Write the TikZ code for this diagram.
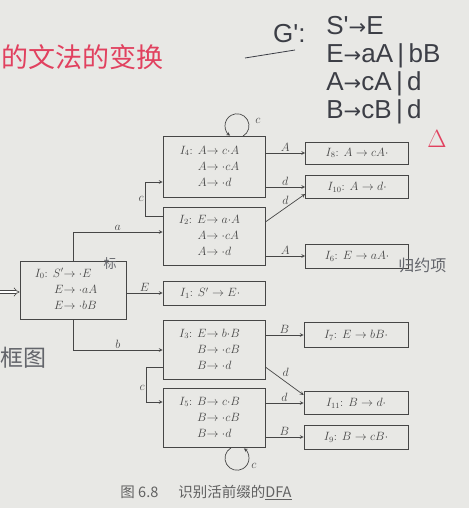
\documentclass[tikz,border=0pt]{standalone}
\usepackage{amsmath, amssymb}
\usepackage{fontspec}
\newfontfamily\cjk{Noto Sans CJK SC}
\newfontfamily\hand{Liberation Sans}
\newfontfamily\handarrow{DejaVu Sans}
\usetikzlibrary{arrows.meta, calc}
\definecolor{paper}{RGB}{232,232,229}
\definecolor{ink}{RGB}{70,70,70}
\definecolor{pen}{RGB}{60,62,70}
\definecolor{redpen}{RGB}{225,65,95}
\newcommand{\ra}{{\handarrow\fontsize{21}{21}\selectfont →}}
\renewcommand{\arraystretch}{1.2}

\begin{document}
\begin{tikzpicture}[x=1pt, y=-1pt, thick, >=stealth, ink,
    state/.style={rectangle, draw=ink, line width=0.7pt, minimum width=102pt, inner sep=2pt, font=\fontsize{11.5}{13.5}\selectfont},
    trans/.style={->, line width=0.7pt},
    lbl/.style={font=\fontsize{11.5}{13.5}\selectfont, inner sep=1.5pt}]
        % 背景
        \fill[paper] (0,0) rectangle (469,508);
        \useasboundingbox (0,0) rectangle (469,508);

        % 状态（项目集）
        \node[state, minimum height=58pt, minimum width=106pt] (I0) at (73,290)
            {\begin{tabular}{@{}r@{}l@{}}$I_0$: $S'$&$\rightarrow{\cdot}E$\\ $E$&$\rightarrow{\cdot}aA$\\ $E$&$\rightarrow{\cdot}bB$\end{tabular}\hspace*{14pt}};
        \node[state, minimum height=61pt] (I4) at (214,167)
            {\begin{tabular}{@{}r@{}l@{}}$I_4$: $A$&$\rightarrow c{\cdot}A$\\ $A$&$\rightarrow{\cdot}cA$\\ $A$&$\rightarrow{\cdot}d$\end{tabular}\hspace*{9pt}};
        \node[state, minimum height=58pt] (I2) at (214,236)
            {\begin{tabular}{@{}r@{}l@{}}$I_2$: $E$&$\rightarrow a{\cdot}A$\\ $A$&$\rightarrow{\cdot}cA$\\ $A$&$\rightarrow{\cdot}d$\end{tabular}\hspace*{9pt}};
        \node[state, minimum height=24pt] (I1) at (214,293) {$I_1$: $S'\rightarrow E{\cdot}$\hspace*{8pt}};
        \node[state, minimum height=59pt] (I3) at (214,350)
            {\begin{tabular}{@{}r@{}l@{}}$I_3$: $E$&$\rightarrow b{\cdot}B$\\ $B$&$\rightarrow{\cdot}cB$\\ $B$&$\rightarrow{\cdot}d$\end{tabular}\hspace*{9pt}};
        \node[state, minimum height=59pt] (I5) at (214,418)
            {\begin{tabular}{@{}r@{}l@{}}$I_5$: $B$&$\rightarrow c{\cdot}B$\\ $B$&$\rightarrow{\cdot}cB$\\ $B$&$\rightarrow{\cdot}d$\end{tabular}\hspace*{9pt}};
        \node[state, minimum height=22pt, minimum width=103pt] (I8) at (357,153) {$I_8$: $A\rightarrow cA{\cdot}$};
        \node[state, minimum height=23pt, minimum width=103pt] (I10) at (357,187) {$I_{10}$: $A\rightarrow d{\cdot}$};
        \node[state, minimum height=24pt, minimum width=103pt] (I6) at (357,256) {$I_6$: $E\rightarrow aA{\cdot}$};
        \node[state, minimum height=25pt, minimum width=104pt] (I7) at (356,335) {$I_7$: $E\rightarrow bB{\cdot}$};
        \node[state, minimum height=23pt, minimum width=104pt] (I11) at (356,403) {$I_{11}$: $B\rightarrow d{\cdot}$};
        \node[state, minimum height=24pt, minimum width=104pt] (I9) at (356,437) {$I_9$: $B\rightarrow cB{\cdot}$};

        % 开始箭头
        \coordinate (start) at (-2,292);
        \draw[line width=0.6pt, double distance=2.5pt, -{Implies}] (start) -- (I0.west |- start);

        % 转移
        \draw[trans] (I0.north) |- node[lbl, above, pos=0.75] {$a$} ([yshift=4pt]I2.west);
        \draw[trans] (I0.south) |- node[lbl, above, pos=0.75] {$b$} (I3.west);
        \draw[trans] (I0.east |- I1.west) -- node[lbl, above] {$E$} (I1.west);
        \draw[trans] ([yshift=20pt]I2.west) -- ++(-17,0) |- node[lbl, left, pos=0.25] {$c$} ([yshift=-15pt]I4.west);
        \draw[trans] ([yshift=-17pt]I3.west) -- ++(-16,0) |- node[lbl, left, pos=0.3] {$c$} ([yshift=16pt]I5.west);
        \draw[trans] ([xshift=29pt]I4.north) arc[start angle=60, end angle=-235, radius=12] coordinate (loop4);
        \node[lbl] (c4) at (258,121) {$c$};
        \draw[trans] ([xshift=17pt]I5.south) arc[start angle=-120, end angle=-415, radius=12] coordinate (loop5);
        \node[lbl] (c5) at (254,466) {$c$};
        \draw[trans] (I4.east |- I8.west) -- node[lbl, above] {$A$} (I8.west);
        \draw[trans] (I4.east |- I10.west) -- node[lbl, above] {$d$} (I10.west);
        \draw[trans] ([yshift=14pt]I2.east) -- node[lbl, above left, pos=0.6, inner sep=0.5pt] {$d$} ([yshift=-7pt]I10.west);
        \draw[trans] (I2.east |- I6.west) -- node[lbl, above] {$A$} (I6.west);
        \draw[trans] (I3.east |- I7.west) -- node[lbl, above] {$B$} (I7.west);
        \draw[trans] ([yshift=-17pt]I3.east) -- node[lbl, above right, pos=0.4] {$d$} ([yshift=8pt]I11.west);
        \draw[trans] (I5.east |- I11.west) -- node[lbl, above] {$d$} (I11.west);
        \draw[trans] (I5.east |- I9.west) -- node[lbl, above] {$B$} (I9.west);

        % 图题
        \node[font=\cjk\fontsize{14.5}{16}\selectfont, text=ink!85] (cap) at (206,493) {图 6.8\hspace{20pt}识别活前缀的\underline{DFA}};

        % 手写笔记
        \node[font=\hand\fontsize{26}{28}\selectfont, text=pen, align=left, anchor=north west, inner sep=0pt] (gram) at (326,16)
            {S'\ra E\\ E\ra aA\,|\,bB\\ A\ra cA\,|\,d\\ B\ra cB\,|\,d};
        \node[font=\hand\fontsize{26}{28}\selectfont, text=pen, anchor=east, inner sep=0pt] (gname) at (306,34) {G':};
        \draw[pen, line width=0.8pt] (245,58) -- (295,50);
        \node[font=\hand\fontsize{30}{30}\selectfont, text=redpen, inner sep=0pt] (delta) at (437,139) {$\Delta$};
        \node[font=\cjk\fontsize{27}{29}\selectfont, text=redpen, anchor=west, inner sep=0pt] (note) at (1,57) {的文法的变换};
        \node[font=\cjk\fontsize{13}{13}\selectfont, text=pen!80] (mark) at (110,264) {标};
        \node[font=\cjk\fontsize{16}{16}\selectfont, text=pen!80, anchor=west, inner sep=0pt] (reduce) at (398,265) {归约项};
        \node[font=\cjk\fontsize{23}{23}\selectfont, text=pen!80, anchor=west, inner sep=0pt] (frame) at (0,358) {框图};
    \end{tikzpicture}
\end{document}
